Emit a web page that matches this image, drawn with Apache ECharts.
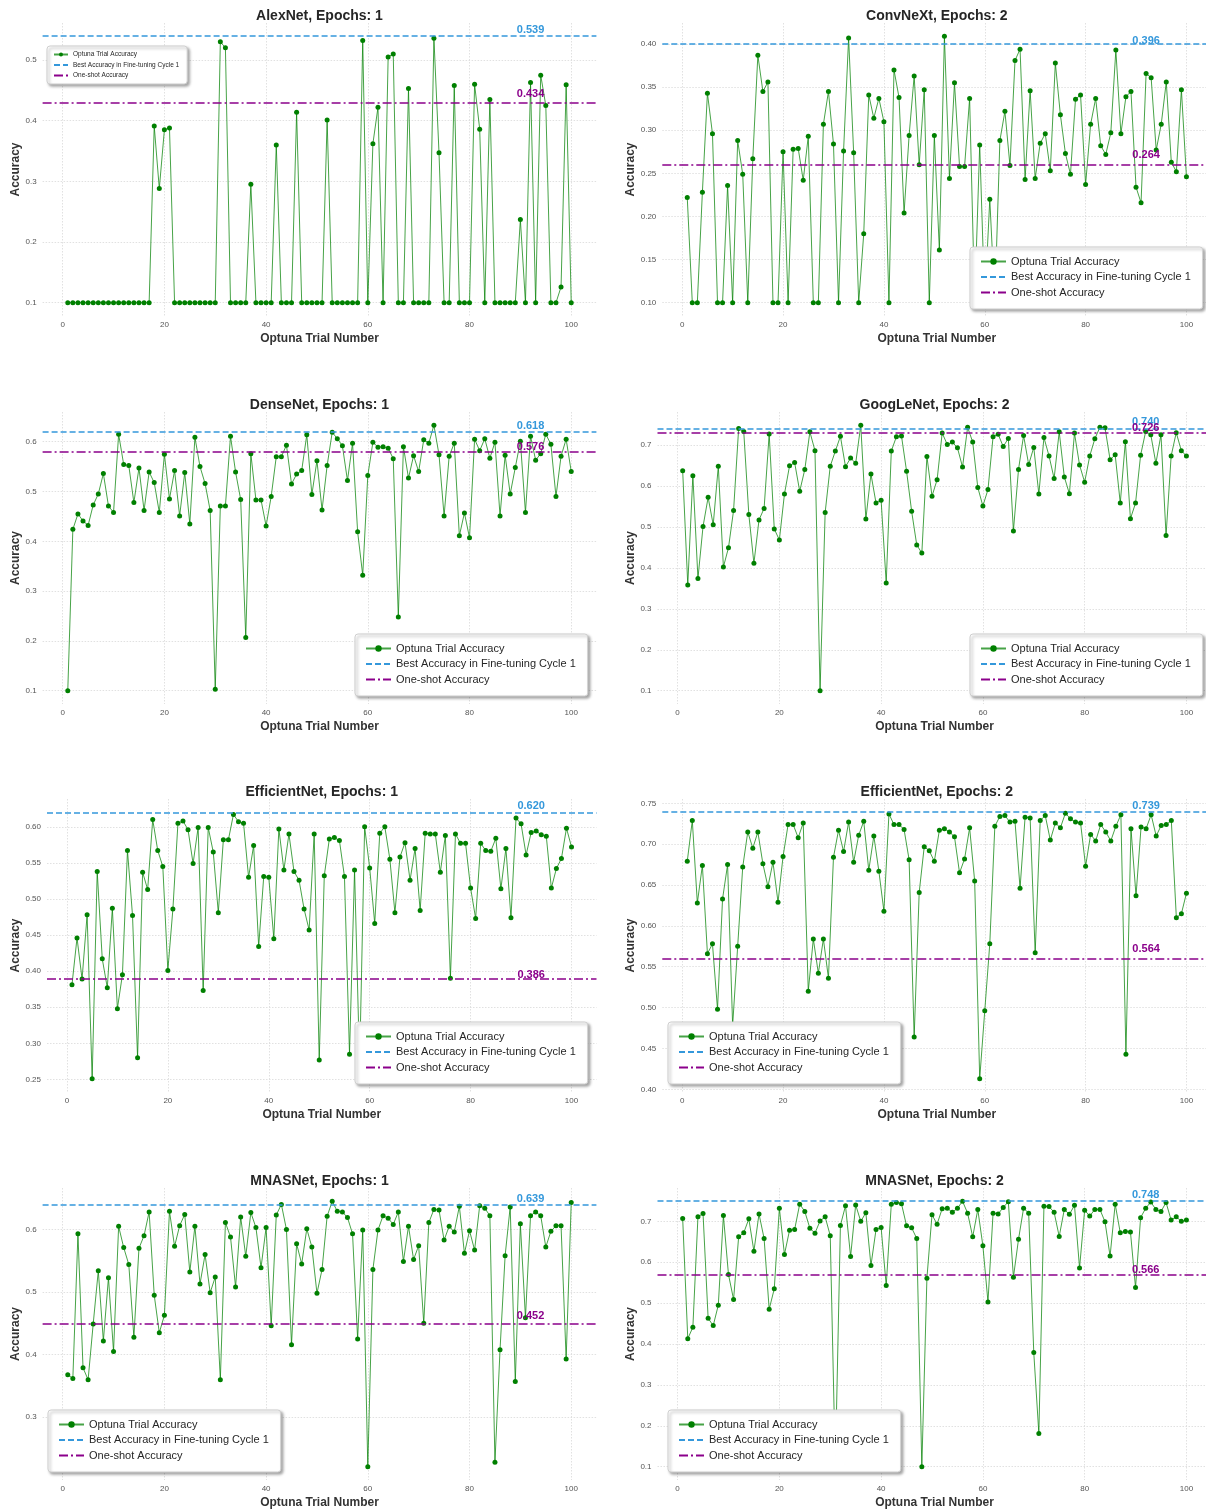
<!DOCTYPE html>
<html>
<head>
<meta charset="utf-8">
<script src="https://cdn.jsdelivr.net/npm/echarts@6/dist/echarts.min.js"></script>
<style>html,body{margin:0;padding:0;background:#fff}#c{width:1206px;height:1510px}</style>
</head>
<body>
<div id="c"></div>
<script>
// ---------------- data ----------------
const trials = [1,2,3,4,5,6,7,8,9,10,11,12,13,14,15,16,17,18,19,20,21,22,23,24,25,26,27,28,29,30,31,32,33,34,35,36,37,38,39,40,41,42,43,44,45,46,47,48,49,50,51,52,53,54,55,56,57,58,59,60,61,62,63,64,65,66,67,68,69,70,71,72,73,74,75,76,77,78,79,80,81,82,83,84,85,86,87,88,89,90,91,92,93,94,95,96,97,98,99,100];

const alexnetEp1 = [
0.1,0.1,0.1,0.1,0.1,0.1,0.1,0.1,0.1,0.1,
0.1,0.1,0.1,0.1,0.1,0.1,0.1,0.391,0.288,0.385,
0.388,0.1,0.1,0.1,0.1,0.1,0.1,0.1,0.1,0.1,
0.530,0.520,0.1,0.1,0.1,0.1,0.295,0.1,0.1,0.1,
0.1,0.360,0.1,0.1,0.1,0.414,0.1,0.1,0.1,0.1,
0.1,0.401,0.1,0.1,0.1,0.1,0.1,0.1,0.532,0.1,
0.362,0.422,0.1,0.505,0.510,0.1,0.1,0.453,0.1,0.1,
0.1,0.1,0.536,0.347,0.1,0.1,0.458,0.1,0.1,0.1,
0.460,0.386,0.1,0.435,0.1,0.1,0.1,0.1,0.1,0.237,
0.1,0.463,0.1,0.475,0.425,0.1,0.1,0.126,0.459,0.1];

const convnextEp2 = [
0.222,0.1,0.1,0.228,0.343,0.296,0.1,0.1,0.236,0.1,
0.288,0.249,0.1,0.267,0.387,0.345,0.356,0.1,0.1,0.275,
0.1,0.278,0.279,0.242,0.293,0.1,0.1,0.307,0.345,0.284,
0.1,0.276,0.407,0.274,0.1,0.180,0.341,0.314,0.337,0.310,
0.1,0.370,0.338,0.204,0.294,0.363,0.260,0.347,0.1,0.294,
0.161,0.409,0.244,0.355,0.258,0.258,0.337,0.1,0.283,0.1,
0.220,0.1,0.288,0.322,0.259,0.381,0.394,0.243,0.346,0.244,
0.285,0.296,0.253,0.378,0.318,0.273,0.249,0.336,0.341,0.237,
0.307,0.337,0.282,0.272,0.297,0.393,0.296,0.339,0.345,0.234,
0.216,0.366,0.361,0.277,0.307,0.356,0.263,0.252,0.347,0.246];

const densenetEp1 = [
0.100,0.424,0.455,0.441,0.432,0.473,0.495,0.536,0.471,0.458,
0.615,0.554,0.552,0.478,0.547,0.462,0.539,0.518,0.458,0.575,
0.485,0.542,0.451,0.538,0.435,0.609,0.550,0.516,0.462,0.103,
0.471,0.471,0.611,0.539,0.484,0.207,0.576,0.483,0.483,0.431,
0.490,0.570,0.570,0.593,0.515,0.535,0.542,0.614,0.494,0.562,
0.463,0.552,0.619,0.606,0.592,0.522,0.597,0.419,0.332,0.532,
0.599,0.589,0.590,0.587,0.566,0.248,0.590,0.527,0.572,0.540,
0.604,0.597,0.633,0.574,0.451,0.571,0.597,0.411,0.457,0.407,
0.605,0.582,0.606,0.567,0.599,0.451,0.573,0.495,0.548,0.601,
0.458,0.611,0.563,0.576,0.615,0.595,0.490,0.571,0.605,0.540];

const googlenetEp2 = [
0.637,0.358,0.625,0.374,0.501,0.572,0.505,0.648,0.402,0.449,
0.540,0.740,0.733,0.530,0.411,0.517,0.545,0.727,0.495,0.468,
0.580,0.649,0.657,0.587,0.640,0.732,0.686,0.100,0.535,0.648,
0.685,0.721,0.647,0.668,0.655,0.748,0.519,0.629,0.558,0.565,
0.363,0.685,0.720,0.722,0.636,0.538,0.456,0.436,0.672,0.575,
0.615,0.729,0.701,0.707,0.693,0.646,0.743,0.707,0.596,0.551,
0.591,0.720,0.726,0.696,0.716,0.490,0.640,0.723,0.652,0.694,
0.580,0.718,0.673,0.618,0.732,0.622,0.581,0.729,0.651,0.609,
0.673,0.715,0.743,0.742,0.664,0.676,0.558,0.708,0.520,0.558,
0.675,0.733,0.725,0.655,0.725,0.479,0.673,0.730,0.686,0.673];

const efficientnetEp1 = [
0.381,0.446,0.389,0.478,0.251,0.538,0.417,0.377,0.487,0.348,
0.395,0.567,0.477,0.280,0.537,0.513,0.610,0.567,0.545,0.401,
0.486,0.605,0.608,0.596,0.549,0.599,0.373,0.599,0.565,0.481,
0.582,0.582,0.617,0.607,0.605,0.530,0.574,0.434,0.531,0.530,
0.445,0.597,0.540,0.590,0.538,0.526,0.486,0.457,0.590,0.277,
0.532,0.583,0.585,0.581,0.531,0.285,0.540,0.270,0.600,0.543,
0.466,0.591,0.600,0.555,0.481,0.558,0.578,0.526,0.570,0.484,
0.591,0.590,0.590,0.537,0.588,0.390,0.590,0.577,0.577,0.515,
0.473,0.577,0.567,0.566,0.584,0.514,0.570,0.474,0.612,0.604,
0.561,0.592,0.594,0.589,0.587,0.515,0.542,0.556,0.598,0.572];

const efficientnetEp2 = [
0.679,0.729,0.628,0.674,0.566,0.578,0.498,0.633,0.675,0.478,
0.575,0.672,0.715,0.695,0.715,0.676,0.648,0.678,0.629,0.685,
0.724,0.724,0.708,0.726,0.520,0.584,0.542,0.584,0.536,0.684,
0.717,0.691,0.727,0.678,0.711,0.728,0.668,0.710,0.667,0.618,
0.737,0.724,0.724,0.718,0.681,0.464,0.641,0.697,0.692,0.679,
0.717,0.719,0.715,0.709,0.665,0.682,0.720,0.655,0.413,0.496,
0.578,0.722,0.734,0.735,0.727,0.728,0.646,0.733,0.732,0.567,
0.729,0.735,0.705,0.726,0.720,0.738,0.731,0.727,0.726,0.673,
0.712,0.704,0.724,0.715,0.704,0.722,0.736,0.443,0.719,0.637,
0.721,0.719,0.736,0.710,0.723,0.724,0.729,0.610,0.615,0.640];

const mnasnetEp1 = [
0.368,0.362,0.593,0.379,0.360,0.449,0.534,0.422,0.523,0.405,
0.605,0.571,0.544,0.428,0.570,0.590,0.628,0.495,0.435,0.463,
0.629,0.573,0.606,0.624,0.532,0.605,0.513,0.560,0.499,0.524,
0.360,0.611,0.588,0.508,0.620,0.557,0.627,0.603,0.539,0.603,
0.446,0.623,0.640,0.600,0.416,0.577,0.545,0.601,0.572,0.498,
0.536,0.621,0.645,0.629,0.628,0.619,0.593,0.425,0.599,0.221,
0.536,0.599,0.622,0.618,0.608,0.628,0.549,0.605,0.552,0.574,
0.450,0.611,0.632,0.631,0.583,0.605,0.596,0.637,0.562,0.598,
0.567,0.638,0.634,0.622,0.228,0.408,0.558,0.636,0.357,0.609,
0.459,0.622,0.628,0.622,0.572,0.597,0.606,0.606,0.393,0.643];

const mnasnetEp2 = [
0.707,0.413,0.441,0.711,0.719,0.463,0.445,0.495,0.714,0.570,
0.509,0.662,0.672,0.706,0.627,0.718,0.658,0.485,0.535,0.732,
0.619,0.678,0.680,0.742,0.724,0.683,0.671,0.701,0.711,0.665,
0.100,0.690,0.738,0.614,0.740,0.700,0.721,0.592,0.680,0.685,
0.543,0.742,0.746,0.743,0.689,0.684,0.658,0.100,0.561,0.716,
0.693,0.731,0.732,0.722,0.732,0.749,0.720,0.662,0.729,0.640,
0.503,0.720,0.718,0.734,0.748,0.563,0.656,0.732,0.720,0.379,
0.181,0.737,0.736,0.722,0.663,0.729,0.717,0.739,0.586,0.727,
0.713,0.729,0.729,0.699,0.615,0.742,0.672,0.675,0.674,0.538,
0.709,0.732,0.747,0.729,0.724,0.746,0.703,0.711,0.700,0.703];

const panelTitles = ['AlexNet, Epochs: 1','ConvNeXt, Epochs: 2','DenseNet, Epochs: 1','GoogLeNet, Epochs: 2',
                     'EfficientNet, Epochs: 1','EfficientNet, Epochs: 2','MNASNet, Epochs: 1','MNASNet, Epochs: 2'];
const bestAcc    = [0.539, 0.396, 0.618, 0.740, 0.620, 0.739, 0.639, 0.748];
const oneShotAcc = [0.434, 0.264, 0.576, 0.726, 0.386, 0.564, 0.452, 0.566];
const yTickLabels = [
  [0.1,0.2,0.3,0.4,0.5],
  [0.10,0.15,0.20,0.25,0.30,0.35,0.40],
  [0.1,0.2,0.3,0.4,0.5,0.6],
  [0.1,0.2,0.3,0.4,0.5,0.6,0.7],
  [0.25,0.30,0.35,0.40,0.45,0.50,0.55,0.60],
  [0.40,0.45,0.50,0.55,0.60,0.65,0.70,0.75],
  [0.3,0.4,0.5,0.6],
  [0.1,0.2,0.3,0.4,0.5,0.6,0.7]
];
const yTickDecimals = [1,2,1,1,2,2,1,1];
const xTickLabels = [0,20,40,60,80,100];
const seriesNames = ['Optuna Trial Accuracy','Best Accuracy in Fine-tuning Cycle 1','One-shot Accuracy'];
const valueLabelX = 92;

const panelAcc = [alexnetEp1, convnextEp2, densenetEp1, googlenetEp2, efficientnetEp1, efficientnetEp2, mnasnetEp1, mnasnetEp2];

// ---------------- layout (pixels) ----------------
const layouts = [
  {left:42.6, width:553.8, top:23,   height:293, lgLeft:47,  lgTop:46,   small:true},
  {left:662.3,width:549.1, top:23,   height:293, lgLeft:970, lgTop:247},
  {left:42.6, width:553.8, top:412,  height:292, lgLeft:355, lgTop:634},
  {left:657.5,width:554.1, top:412,  height:292, lgLeft:970, lgTop:634},
  {left:47.0, width:549.5, top:799,  height:293, lgLeft:355, lgTop:1022},
  {left:662.3,width:549.1, top:799,  height:293, lgLeft:668, lgTop:1022},
  {left:42.6, width:553.8, top:1188, height:292, lgLeft:48,  lgTop:1410},
  {left:657.5,width:554.1, top:1188, height:292, lgLeft:668, lgTop:1410}
];
const FONT = '"Liberation Sans", Arial, Helvetica, sans-serif';
const GREEN = '#008000', GREEN_LINE = 'rgba(0,128,0,0.72)';
const BLUE = '#3498db', PURPLE = '#8b008b';
const DASH = [6,3], DASHDOT = [9,3,2,3];

const grids=[], xAxes=[], yAxes=[], series=[], titles=[], legends=[];

panelAcc.forEach((acc, i) => {
  const L = layouts[i];
  grids.push({left:L.left, top:L.top, width:L.width, height:L.height, containLabel:false, outerBoundsMode:'none'});
  const all = acc.concat([bestAcc[i], oneShotAcc[i]]);
  const lo = Math.min(...all), hi = Math.max(...all), pad = (hi - lo) * 0.05;
  const xl = trials[0], xh = trials[trials.length-1], xpad = (xh - xl) * 0.05;
  const labelCenterX = L.left < 300 ? 16 : 631;
  xAxes.push({
    type:'value', gridIndex:i, min:xl - xpad, max:xh + xpad,
    axisLine:{show:false},
    axisTick:{show:false, customValues:xTickLabels},
    axisLabel:{customValues:xTickLabels, fontSize:8, color:'#555', margin:5, fontFamily:FONT},
    splitLine:{show:true, lineStyle:{color:'#d9d9d9', width:0.8, type:[1.5,1.5]}},
    name:'Optuna Trial Number', nameLocation:'middle', nameGap:17,
    nameTextStyle:{fontSize:12, fontWeight:'bold', color:'#333', fontFamily:FONT}
  });
  yAxes.push({
    type:'value', gridIndex:i, min:lo - pad, max:hi + pad,
    axisLine:{show:false},
    axisTick:{show:false, customValues:yTickLabels[i]},
    axisLabel:{customValues:yTickLabels[i], fontSize:8, color:'#555', margin:6, fontFamily:FONT,
      formatter:(v)=>Number(v).toFixed(yTickDecimals[i])},
    splitLine:{show:true, lineStyle:{color:'#d9d9d9', width:0.8, type:[1.5,1.5]}},
    name:'Accuracy', nameLocation:'middle', nameRotate:90, nameGap: L.left - (labelCenterX + 7),
    nameTextStyle:{fontSize:12, fontWeight:'bold', color:'#333', fontFamily:FONT}
  });
  series.push({
    type:'line', name:seriesNames[0], xAxisIndex:i, yAxisIndex:i,
    data: trials.map((t,k)=>[t, acc[k]]),
    symbol:'circle', symbolSize:5, showAllSymbol:true,
    itemStyle:{color:GREEN}, lineStyle:{color:GREEN_LINE, width:1},
    emphasis:{disabled:true}, z:3
  });
  series.push({
    type:'line', name:seriesNames[1], xAxisIndex:i, yAxisIndex:i, data:[],
    symbol:'none', itemStyle:{color:BLUE}, lineStyle:{color:BLUE, width:1.5, type:DASH},
    markLine:{silent:true, symbol:['none','none'], label:{show:false},
      lineStyle:{color:BLUE, width:1.5, type:DASH}, data:[{yAxis:bestAcc[i]}]},
    markPoint:{silent:true, symbol:'circle', symbolSize:0,
      data:[{coord:[valueLabelX, bestAcc[i]]}],
      label:{show:true, position:'top', distance:1, formatter:bestAcc[i].toFixed(3),
        color:BLUE, fontWeight:'bold', fontSize:11, fontFamily:FONT}},
    z:2
  });
  series.push({
    type:'line', name:seriesNames[2], xAxisIndex:i, yAxisIndex:i, data:[],
    symbol:'none', itemStyle:{color:PURPLE}, lineStyle:{color:PURPLE, width:1.5, type:DASHDOT},
    markLine:{silent:true, symbol:['none','none'], label:{show:false},
      lineStyle:{color:PURPLE, width:1.5, type:DASHDOT}, data:[{yAxis:oneShotAcc[i]}]},
    markPoint:{silent:true, symbol:'circle', symbolSize:0,
      data:[{coord:[valueLabelX, oneShotAcc[i]]}],
      label:{show:true, position:'top', distance:1, formatter:oneShotAcc[i].toFixed(3),
        color:PURPLE, fontWeight:'bold', fontSize:11, fontFamily:FONT}},
    z:2
  });
  titles.push({
    text:panelTitles[i], left:L.left + L.width/2, top:L.top - 13.5, textAlign:'center', padding:0,
    textStyle:{fontSize:14, fontWeight:'bold', color:'#262626', fontFamily:FONT}
  });
  const sm = !!L.small;
  legends.push({
    data:[
      {name:seriesNames[0]},
      {name:seriesNames[1], itemStyle:{opacity:0}},
      {name:seriesNames[2], itemStyle:{opacity:0}}
    ],
    orient:'vertical', left:L.lgLeft, top:L.lgTop, selectedMode:false,
    backgroundColor:'#ffffff', borderColor:'#cfcfcf', borderWidth:1, borderRadius:3,
    shadowBlur:3, shadowColor:'rgba(0,0,0,0.35)', shadowOffsetX:2, shadowOffsetY:2,
    padding: sm ? [5,8,5,6] : [9,12,11,10],
    itemGap: sm ? 3.5 : 4.5,
    itemWidth: sm ? 14 : 25, itemHeight: sm ? 5 : 8,
    textStyle:{fontSize: sm ? 6.5 : 11, color:'#262626', fontFamily:FONT},
    z:20
  });
});

const chart = echarts.init(document.getElementById('c'), null, {renderer:'canvas'});
chart.setOption({
  animation:false,
  backgroundColor:'#ffffff',
  title:titles, legend:legends, grid:grids, xAxis:xAxes, yAxis:yAxes, series:series
});
</script>
</body>
</html>
